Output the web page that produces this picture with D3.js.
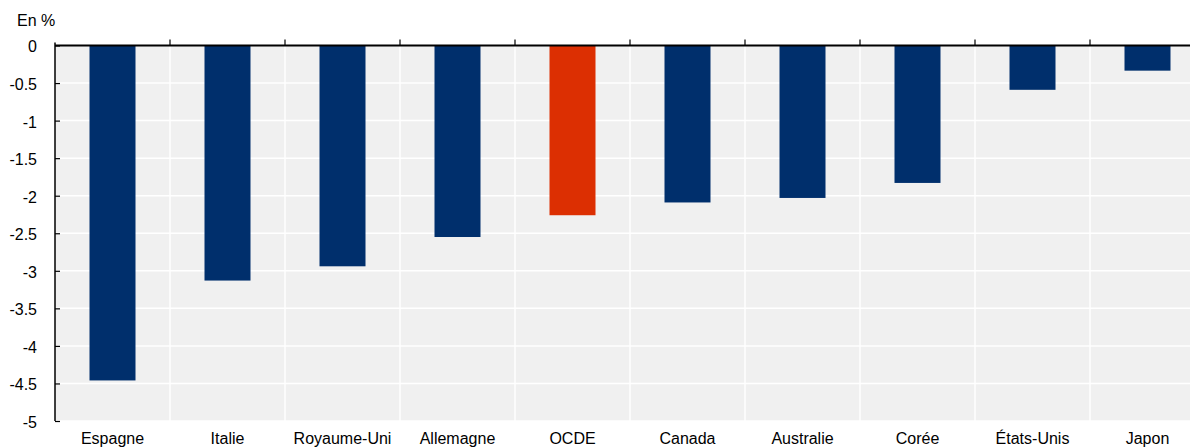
<!DOCTYPE html>
<html>
<head>
<meta charset="utf-8">
<script src="https://cdn.jsdelivr.net/npm/d3@7"></script>
<style>
  html, body { margin: 0; padding: 0; background: #ffffff; }
  svg { display: block; font-family: "Liberation Sans", Arial, sans-serif; }
</style>
</head>
<body>
<svg id="chart" width="1190" height="448"></svg>
<script>
// Variation en points de pourcentage, par pays
const categories = ["Espagne", "Italie", "Royaume-Uni", "Allemagne", "OCDE", "Canada", "Australie", "Corée", "États-Unis", "Japon"];
const values = [-4.46, -3.13, -2.94, -2.55, -2.26, -2.09, -2.03, -1.83, -0.59, -0.335];
const highlighted = ["OCDE"];
const yTicks = [0, -0.5, -1, -1.5, -2, -2.5, -3, -3.5, -4, -4.5, -5];
const yTickLabels = ["0", "-0.5", "-1", "-1.5", "-2", "-2.5", "-3", "-3.5", "-4", "-4.5", "-5"];
const unitLabel = "En %";

const svg = d3.select("#chart");
const plotLeft = 55, plotRight = 1205, plotTop = 45.5, plotBottom = 421;

const x = d3.scaleBand().domain(categories).range([plotLeft, plotRight]).paddingInner(0).paddingOuter(0);
const y = d3.scaleLinear().domain([0, -5]).range([plotTop, plotBottom]);

// Plot background
svg.append("rect")
  .attr("x", plotLeft).attr("y", plotTop)
  .attr("width", plotRight - plotLeft).attr("height", plotBottom - plotTop)
  .attr("fill", "#f0f0f0");

// Horizontal gridlines
svg.append("g").selectAll("line")
  .data(yTicks.filter(d => d !== 0))
  .join("line")
  .attr("x1", plotLeft).attr("x2", plotRight)
  .attr("y1", d => y(d)).attr("y2", d => y(d))
  .attr("stroke", "#ffffff").attr("stroke-width", 1.5);

// Vertical separators between categories
svg.append("g").selectAll("line")
  .data(categories.slice(1))
  .join("line")
  .attr("x1", d => x(d)).attr("x2", d => x(d))
  .attr("y1", plotTop).attr("y2", plotBottom)
  .attr("stroke", "#ffffff").attr("stroke-width", 1.5);

// Bars
const barW = 46;
svg.append("g").selectAll("rect")
  .data(categories.map((c, i) => ({ c, v: values[i] })))
  .join("rect")
  .attr("x", d => x(d.c) + (x.bandwidth() - barW) / 2)
  .attr("width", barW)
  .attr("y", y(0))
  .attr("height", d => y(d.v) - y(0))
  .attr("fill", d => highlighted.includes(d.c) ? "#dc2f02" : "#002f6c");

// Left axis with inward ticks
const yAxis = d3.axisLeft(y)
  .tickValues(yTicks)
  .tickFormat((d, i) => yTickLabels[i])
  .tickSize(-5)
  .tickPadding(18);
const gy = svg.append("g").attr("transform", `translate(${plotLeft},0)`).call(yAxis);
gy.select(".domain").attr("stroke", "#000").attr("stroke-width", 1.5).attr("d", `M0,${plotTop - 3}V${plotBottom}`);
gy.selectAll(".tick line").attr("stroke", "#000").attr("stroke-width", 1.2);
gy.selectAll(".tick text")
  .attr("font-size", 16).attr("fill", "#000")
  .attr("font-family", "'Liberation Sans', Arial, sans-serif")
  .attr("dy", "0.4em");

// Zero line with upward ticks at category boundaries
svg.append("line")
  .attr("x1", plotLeft).attr("x2", plotRight)
  .attr("y1", y(0)).attr("y2", y(0))
  .attr("stroke", "#000").attr("stroke-width", 2);
svg.append("g").selectAll("line")
  .data(categories.slice(1))
  .join("line")
  .attr("x1", d => x(d)).attr("x2", d => x(d))
  .attr("y1", y(0)).attr("y2", y(0) - 6)
  .attr("stroke", "#000").attr("stroke-width", 1.2);

// Category labels
svg.append("g").selectAll("text")
  .data(categories)
  .join("text")
  .attr("x", d => x(d) + x.bandwidth() / 2)
  .attr("y", 443.5)
  .attr("text-anchor", "middle")
  .attr("font-size", 16)
  .attr("fill", "#000")
  .text(d => d);

// Unit label
svg.append("text")
  .attr("x", 17).attr("y", 26)
  .attr("font-size", 16)
  .attr("fill", "#000")
  .text(unitLabel);
</script>
</body>
</html>
